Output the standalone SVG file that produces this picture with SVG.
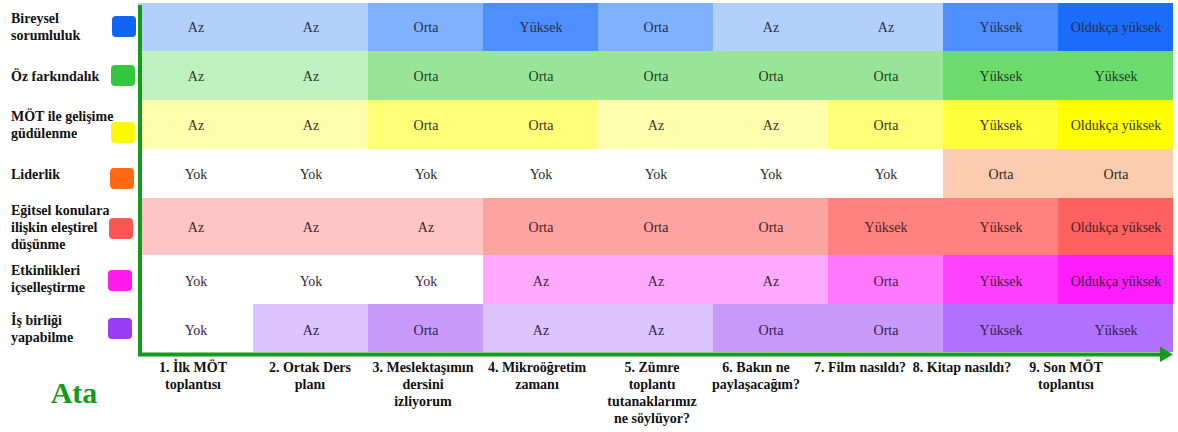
<svg xmlns="http://www.w3.org/2000/svg" width="1178" height="432" viewBox="0 0 1178 432">
  <style>
    .lbl { font-family: "Liberation Serif", "Times New Roman", serif; font-weight: bold; font-size: 14px; fill: #111; }
    .cell { font-family: "Liberation Serif", "Times New Roman", serif; font-size: 14px; text-anchor: middle; }
    .step { font-family: "Liberation Serif", "Times New Roman", serif; font-weight: bold; font-size: 14px; fill: #111; text-anchor: middle; }
    .sw { stroke: none; }
    .axis { stroke: #169a1c; stroke-width: 4; fill: none; }
    /* level fills per skill */
    .b0 { fill: #ffffff; } .b1 { fill: #b3d0fd; } .b2 { fill: #80b1fe; } .b3 { fill: #4d8ffe; } .b4 { fill: #1a6cfc; }
    .g0 { fill: #ffffff; } .g1 { fill: #bff0c0; } .g2 { fill: #99e598; } .g3 { fill: #6bdb6d; }
    .y0 { fill: #ffffff; } .y1 { fill: #ffffae; } .y2 { fill: #ffff77; } .y3 { fill: #ffff3b; } .y4 { fill: #ffff00; }
    .o0 { fill: #ffffff; } .o2 { fill: #fdcbb0; }
    .r0 { fill: #ffffff; } .r1 { fill: #fdc6c5; } .r2 { fill: #fda4a3; } .r3 { fill: #ff8180; } .r4 { fill: #ff6060; }
    .m0 { fill: #ffffff; } .m1 { fill: #ffaaff; } .m2 { fill: #ff78ff; } .m3 { fill: #ff40ff; } .m4 { fill: #ff1cff; }
    .p0 { fill: #ffffff; } .p1 { fill: #dcc4fe; } .p2 { fill: #c89afe; } .p3 { fill: #b071fe; }
    .tb { fill: #27304a; } .tg { fill: #1f3a20; } .ty { fill: #35351a; } .to { fill: #2a2a2a; }
    .tr { fill: #4a2222; } .tm { fill: #3f1f40; } .tp { fill: #33204f; }
  </style>

  <!-- Row 1: Bireysel sorumluluk -->
  <g id="row-bireysel-sorumluluk">
    <text class="lbl" x="11" y="23">Bireysel</text>
    <text class="lbl" x="11" y="40">sorumluluk</text>
    <rect class="sw" x="112" y="16" width="24" height="21" rx="4" fill="#0f66f5"/>
    <rect class="b1" x="138" y="3" width="115" height="48"/>
    <rect class="b1" x="253" y="3" width="115" height="48"/>
    <rect class="b2" x="368" y="3" width="115" height="48"/>
    <rect class="b3" x="483" y="3" width="115" height="48"/>
    <rect class="b2" x="598" y="3" width="115" height="48"/>
    <rect class="b1" x="713" y="3" width="115" height="48"/>
    <rect class="b1" x="828" y="3" width="115" height="48"/>
    <rect class="b3" x="943" y="3" width="115" height="48"/>
    <rect class="b4" x="1058" y="3" width="115" height="48"/>
    <g class="cell tb">
      <text x="196" y="32">Az</text><text x="311" y="32">Az</text><text x="426" y="32">Orta</text>
      <text x="541" y="32">Yüksek</text><text x="656" y="32">Orta</text><text x="771" y="32">Az</text>
      <text x="886" y="32">Az</text><text x="1001" y="32">Yüksek</text><text x="1116" y="32">Oldukça yüksek</text>
    </g>
  </g>

  <!-- Row 2: Öz farkındalık -->
  <g id="row-oz-farkindalik">
    <text class="lbl" x="11" y="81">Öz farkındalık</text>
    <rect class="sw" x="111" y="65" width="24" height="21" rx="4" fill="#33c93d"/>
    <rect class="g1" x="138" y="51" width="115" height="49"/>
    <rect class="g1" x="253" y="51" width="115" height="49"/>
    <rect class="g2" x="368" y="51" width="115" height="49"/>
    <rect class="g2" x="483" y="51" width="115" height="49"/>
    <rect class="g2" x="598" y="51" width="115" height="49"/>
    <rect class="g2" x="713" y="51" width="115" height="49"/>
    <rect class="g2" x="828" y="51" width="115" height="49"/>
    <rect class="g3" x="943" y="51" width="115" height="49"/>
    <rect class="g3" x="1058" y="51" width="115" height="49"/>
    <g class="cell tg">
      <text x="196" y="81">Az</text><text x="311" y="81">Az</text><text x="426" y="81">Orta</text>
      <text x="541" y="81">Orta</text><text x="656" y="81">Orta</text><text x="771" y="81">Orta</text>
      <text x="886" y="81">Orta</text><text x="1001" y="81">Yüksek</text><text x="1116" y="81">Yüksek</text>
    </g>
  </g>

  <!-- Row 3: MÖT ile gelişime güdülenme -->
  <g id="row-gudulenme">
    <text class="lbl" x="11" y="121">MÖT ile gelişime</text>
    <text class="lbl" x="11" y="138">güdülenme</text>
    <rect class="sw" x="111" y="122" width="24" height="21" rx="4" fill="#fdf900"/>
    <rect class="y1" x="138" y="100" width="115" height="49"/>
    <rect class="y1" x="253" y="100" width="115" height="49"/>
    <rect class="y2" x="368" y="100" width="115" height="49"/>
    <rect class="y2" x="483" y="100" width="115" height="49"/>
    <rect class="y1" x="598" y="100" width="115" height="49"/>
    <rect class="y1" x="713" y="100" width="115" height="49"/>
    <rect class="y2" x="828" y="100" width="115" height="49"/>
    <rect class="y3" x="943" y="100" width="115" height="49"/>
    <rect class="y4" x="1058" y="100" width="115" height="49"/>
    <g class="cell ty">
      <text x="196" y="130">Az</text><text x="311" y="130">Az</text><text x="426" y="130">Orta</text>
      <text x="541" y="130">Orta</text><text x="656" y="130">Az</text><text x="771" y="130">Az</text>
      <text x="886" y="130">Orta</text><text x="1001" y="130">Yüksek</text><text x="1116" y="130">Oldukça yüksek</text>
    </g>
  </g>

  <!-- Row 4: Liderlik -->
  <g id="row-liderlik">
    <text class="lbl" x="11" y="179">Liderlik</text>
    <rect class="sw" x="110" y="168" width="24" height="21" rx="4" fill="#ff6a13"/>
    <rect class="o0" x="138" y="149" width="805" height="49"/>
    <rect class="o2" x="943" y="149" width="115" height="49"/>
    <rect class="o2" x="1058" y="149" width="115" height="49"/>
    <g class="cell to">
      <text x="196" y="179">Yok</text><text x="311" y="179">Yok</text><text x="426" y="179">Yok</text>
      <text x="541" y="179">Yok</text><text x="656" y="179">Yok</text><text x="771" y="179">Yok</text>
      <text x="886" y="179">Yok</text><text x="1001" y="179">Orta</text><text x="1116" y="179">Orta</text>
    </g>
  </g>

  <!-- Row 5: Eğitsel konulara ilişkin eleştirel düşünme -->
  <g id="row-elestirel-dusunme">
    <text class="lbl" x="11" y="215">Eğitsel konulara</text>
    <text class="lbl" x="11" y="232">ilişkin eleştirel</text>
    <text class="lbl" x="11" y="249">düşünme</text>
    <rect class="sw" x="109" y="218" width="24" height="21" rx="4" fill="#fc5552"/>
    <rect class="r1" x="138" y="198" width="115" height="57"/>
    <rect class="r1" x="253" y="198" width="115" height="57"/>
    <rect class="r1" x="368" y="198" width="115" height="57"/>
    <rect class="r2" x="483" y="198" width="115" height="57"/>
    <rect class="r2" x="598" y="198" width="115" height="57"/>
    <rect class="r2" x="713" y="198" width="115" height="57"/>
    <rect class="r3" x="828" y="198" width="115" height="57"/>
    <rect class="r3" x="943" y="198" width="115" height="57"/>
    <rect class="r4" x="1058" y="198" width="115" height="57"/>
    <g class="cell tr">
      <text x="196" y="232">Az</text><text x="311" y="232">Az</text><text x="426" y="232">Az</text>
      <text x="541" y="232">Orta</text><text x="656" y="232">Orta</text><text x="771" y="232">Orta</text>
      <text x="886" y="232">Yüksek</text><text x="1001" y="232">Yüksek</text><text x="1116" y="232">Oldukça yüksek</text>
    </g>
  </g>

  <!-- Row 6: Etkinlikleri içselleştirme -->
  <g id="row-icsellestirme">
    <text class="lbl" x="11" y="275">Etkinlikleri</text>
    <text class="lbl" x="11" y="292">içselleştirme</text>
    <rect class="sw" x="108" y="270" width="24" height="21" rx="4" fill="#ff1aee"/>
    <rect class="m0" x="138" y="255" width="345" height="49"/>
    <rect class="m1" x="483" y="255" width="115" height="49"/>
    <rect class="m1" x="598" y="255" width="115" height="49"/>
    <rect class="m1" x="713" y="255" width="115" height="49"/>
    <rect class="m2" x="828" y="255" width="115" height="49"/>
    <rect class="m3" x="943" y="255" width="115" height="49"/>
    <rect class="m4" x="1058" y="255" width="115" height="49"/>
    <g class="cell tm">
      <text x="196" y="286">Yok</text><text x="311" y="286">Yok</text><text x="426" y="286">Yok</text>
      <text x="541" y="286">Az</text><text x="656" y="286">Az</text><text x="771" y="286">Az</text>
      <text x="886" y="286">Orta</text><text x="1001" y="286">Yüksek</text><text x="1116" y="286">Oldukça yüksek</text>
    </g>
  </g>

  <!-- Row 7: İş birliği yapabilme -->
  <g id="row-is-birligi">
    <text class="lbl" x="11" y="325">İş birliği</text>
    <text class="lbl" x="11" y="342">yapabilme</text>
    <rect class="sw" x="108" y="318" width="24" height="21" rx="4" fill="#9a3cf6"/>
    <rect class="p0" x="138" y="304" width="115" height="48"/>
    <rect class="p1" x="253" y="304" width="115" height="48"/>
    <rect class="p2" x="368" y="304" width="115" height="48"/>
    <rect class="p1" x="483" y="304" width="115" height="48"/>
    <rect class="p1" x="598" y="304" width="115" height="48"/>
    <rect class="p2" x="713" y="304" width="115" height="48"/>
    <rect class="p2" x="828" y="304" width="115" height="48"/>
    <rect class="p3" x="943" y="304" width="115" height="48"/>
    <rect class="p3" x="1058" y="304" width="115" height="48"/>
    <g class="cell tp">
      <text x="196" y="335">Yok</text><text x="311" y="335">Az</text><text x="426" y="335">Orta</text>
      <text x="541" y="335">Az</text><text x="656" y="335">Az</text><text x="771" y="335">Orta</text>
      <text x="886" y="335">Orta</text><text x="1001" y="335">Yüksek</text><text x="1116" y="335">Yüksek</text>
    </g>
  </g>

  <!-- Axes: vertical skill axis and horizontal time arrow -->
  <g id="connectors">
    <path class="axis" d="M140 5 V354.5 H1162"/>
    <polygon points="1160,346.5 1173,354.5 1160,362" fill="#169a1c"/>
  </g>

  <!-- Session labels along the time axis -->
  <g id="steps">
    <text class="step" x="193" y="372">1.  İlk MÖT</text>
    <text class="step" x="193" y="389">toplantısı</text>
    <text class="step" x="310" y="372">2. Ortak Ders</text>
    <text class="step" x="310" y="389">planı</text>
    <text class="step" x="423" y="372">3. Meslektaşımın</text>
    <text class="step" x="423" y="389">dersini</text>
    <text class="step" x="423" y="406">izliyorum</text>
    <text class="step" x="537" y="372">4. Mikroöğretim</text>
    <text class="step" x="537" y="389">zamanı</text>
    <text class="step" x="652" y="372">5. Zümre</text>
    <text class="step" x="652" y="389">toplantı</text>
    <text class="step" x="652" y="406">tutanaklarımız</text>
    <text class="step" x="652" y="423">ne söylüyor?</text>
    <text class="step" x="756" y="372">6. Bakın ne</text>
    <text class="step" x="756" y="389">paylaşacağım?</text>
    <text class="step" x="860" y="372">7. Film nasıldı?</text>
    <text class="step" x="962" y="372">8. Kitap nasıldı?</text>
    <text class="step" x="1066" y="372">9. Son MÖT</text>
    <text class="step" x="1066" y="389">toplantısı</text>
  </g>

  <g id="title">
    <text x="74" y="403" text-anchor="middle" font-family="Liberation Serif, Times New Roman, serif" font-weight="bold" font-size="30" fill="#169a1c">Ata</text>
  </g>
</svg>
